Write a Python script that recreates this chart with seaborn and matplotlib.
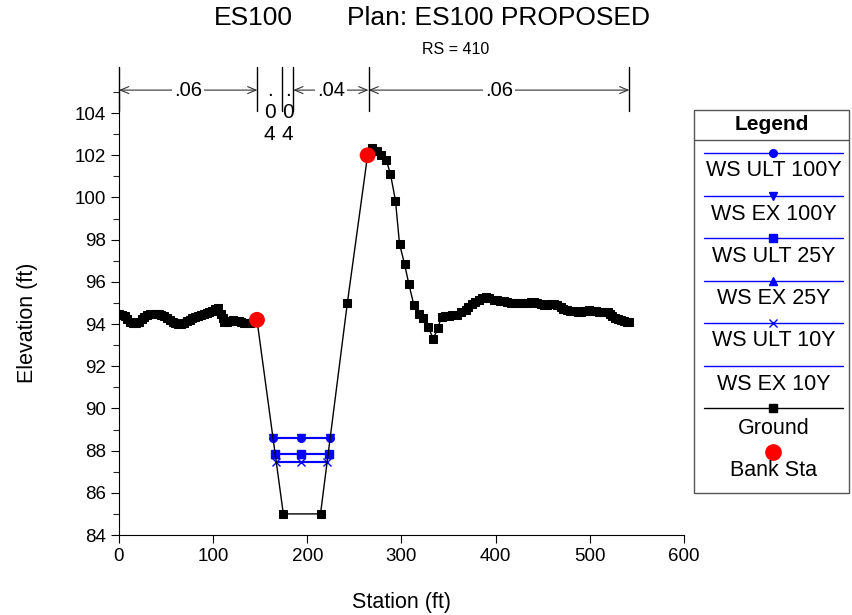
import matplotlib
matplotlib.use("Agg")
import matplotlib.pyplot as plt
import seaborn as sns
from matplotlib.lines import Line2D
from matplotlib.patches import Rectangle
from matplotlib.ticker import MultipleLocator

# Ground profile (station ft, elevation ft)
ground_sta = [0, 3, 6, 9, 12, 15, 18, 21, 24, 27, 30, 33, 36, 39, 42, 45, 48, 51, 54,
              57, 60, 63, 66, 69, 72, 75, 78, 81, 84, 87, 90, 93, 96, 99, 102, 105,
              108, 110, 112, 115, 118, 121, 124, 127, 130, 133, 136, 139, 142, 146.5,
              174.5, 214, 242.5, 264,
              268.8, 274.1, 278.7, 283.7, 288.3, 293.6, 297.9, 303.2, 307.8, 313.1,
              318.4, 323.0, 328.4, 333.7, 338.6,
              342.5, 346, 350, 354, 359, 363, 368, 371, 375, 378, 382, 386, 389.4,
              393, 398, 401, 405, 409, 412.4, 416, 419, 423, 426.6, 430, 434, 437,
              441, 444, 448, 451, 455, 458, 461.7, 465, 469, 472, 476, 479, 483, 487,
              490.4, 493, 496, 499, 503, 507, 510, 513, 516, 518.8, 521, 524, 527,
              530, 533, 536, 539, 541.8]
ground_elev = [94.5, 94.45, 94.38, 94.25, 94.12, 94.05, 94.05, 94.12, 94.25, 94.35,
               94.42, 94.47, 94.5, 94.5, 94.47, 94.43, 94.38, 94.3, 94.2, 94.12, 94.05,
               94.0, 94.0, 94.07, 94.15, 94.2, 94.27, 94.32, 94.4, 94.45, 94.5, 94.53,
               94.58, 94.62, 94.7, 94.75, 94.5, 94.3, 94.1, 94.12, 94.15, 94.17,
               94.15, 94.13, 94.1, 94.07, 94.05, 94.07, 94.12, 94.2,
               85.0, 85.0, 95.0, 102.0,
               102.35, 102.2, 102.0, 101.8, 101.1, 99.85, 97.8, 96.85, 95.9, 94.9,
               94.5, 94.3, 93.85, 93.3, 93.8,
               94.35, 94.38, 94.4, 94.42, 94.45, 94.55, 94.65, 94.8, 94.95, 95.05,
               95.15, 95.25, 95.3, 95.22, 95.15, 95.12, 95.1, 95.07, 95.05, 95.02,
               95.0, 94.98, 94.98, 94.99, 95.0, 95.03, 95.05, 95.0, 94.95, 94.92,
               94.9, 94.93, 94.95, 94.88, 94.8, 94.72, 94.65, 94.62, 94.6, 94.58,
               94.58, 94.6, 94.62, 94.65, 94.64, 94.6, 94.57, 94.55, 94.55, 94.55,
               94.48, 94.4, 94.3, 94.22, 94.17, 94.13, 94.1, 94.08]

bank_sta = [146.5, 264.0]
bank_elev = [94.2, 102.0]

# Water surfaces
ws_ult100_sta = [163.1, 193.6, 224.0]
ws_ult100_elev = [88.58, 88.58, 88.58]
ws_ex100_sta = [163.1, 193.6, 224.0]
ws_ex100_elev = [88.58, 88.58, 88.58]
ws_ult25_sta = [165.4, 193.6, 222.5]
ws_ult25_elev = [87.86, 87.86, 87.86]
ws_ex25_sta = [165.4, 193.6, 222.5]
ws_ex25_elev = [87.86, 87.86, 87.86]
ws_ult10_sta = [166.5, 193.6, 221.0]
ws_ult10_elev = [87.47, 87.47, 87.47]
ws_ex10_sta = [166.5, 193.6, 221.0]
ws_ex10_elev = [87.47, 87.47, 87.47]

# Manning's n regions
n_breaks = [0, 147, 173, 185, 265, 542]
n_values = [".06", ".04", ".04", ".04", ".06"]

x_ticks = [0, 100, 200, 300, 400, 500, 600]
y_ticks = [84, 86, 88, 90, 92, 94, 96, 98, 100, 102, 104]

sns.set_style("ticks")
plt.rcParams["font.family"] = ["Liberation Sans", "DejaVu Sans"]
plt.rcParams["text.color"] = "black"
plt.rcParams["axes.labelcolor"] = "black"

W, H = 853, 615
fig = plt.figure(figsize=(W / 100, H / 100), dpi=100)


def fx(px):
    return px / W


def fy(py):
    return 1 - py / H


ax = fig.add_axes([fx(119), fy(535), fx(684) - fx(119), fy(92) - fy(535)])

BLUE = "#0000ff"
ws_series = [
    (ws_ult100_sta, ws_ult100_elev, "o"),
    (ws_ex100_sta, ws_ex100_elev, "v"),
    (ws_ult25_sta, ws_ult25_elev, "s"),
    (ws_ex25_sta, ws_ex25_elev, "^"),
    (ws_ult10_sta, ws_ult10_elev, "x"),
    (ws_ex10_sta, ws_ex10_elev, None),
]
for sta, elev, mk in ws_series:
    kw = dict(marker=mk, markersize=5.5, markeredgecolor=BLUE, markerfacecolor=BLUE,
              markeredgewidth=1.0) if mk else {}
    sns.lineplot(x=sta, y=elev, sort=False, color=BLUE, linewidth=1.5, ax=ax,
                 zorder=3, **kw)

sns.lineplot(x=ground_sta, y=ground_elev, sort=False, color="black", linewidth=1.0,
             marker="s", markersize=5.2, markeredgecolor="black",
             markerfacecolor="black", ax=ax, zorder=4)
sns.scatterplot(x=bank_sta, y=bank_elev, color="red", s=130, edgecolor="none",
                ax=ax, zorder=5)

ax.set_xlim(0, 600)
ax.set_ylim(84, 105)
ax.set_xticks(x_ticks)
ax.set_yticks(y_ticks)
ax.yaxis.set_minor_locator(MultipleLocator(1))
ax.tick_params(axis="both", which="major", direction="out", length=6, width=0.8,
               labelsize=13.5, colors="black")
ax.tick_params(axis="y", which="minor", direction="out", length=4, width=0.8)
for s in ("top", "right"):
    ax.spines[s].set_visible(False)
for s in ("left", "bottom"):
    ax.spines[s].set_color("black")
    ax.spines[s].set_linewidth(0.8)

ax.set_xlabel("Station (ft)", fontsize=15.5)
ax.set_ylabel("Elevation (ft)", fontsize=15.5)
ax.xaxis.set_label_coords(0.5, -0.128)
ax.yaxis.set_label_coords(-0.143, 0.479)

# Manning's n annotations above the plot
y_arrow = 105.09
y_lo, y_hi = 104.1, 106.18
for b in n_breaks:
    ax.plot([b, b], [y_lo, y_hi], color="black", linewidth=1.0, clip_on=False,
            zorder=6)
for x0, x1, val in zip(n_breaks[:-1], n_breaks[1:], n_values):
    xm = 0.5 * (x0 + x1)
    if (x1 - x0) > 40:
        ax.annotate("", xy=(x0, y_arrow), xytext=(x1, y_arrow),
                    arrowprops=dict(arrowstyle="<->,head_length=0.6,head_width=0.25",
                                    color="#333333", linewidth=0.8,
                                    shrinkA=0, shrinkB=0),
                    annotation_clip=False)
        ax.text(xm, y_arrow, val, ha="center", va="center", fontsize=14.5,
                bbox=dict(facecolor="white", edgecolor="none", pad=1.5),
                clip_on=False, zorder=7)
    else:
        ax.text(xm, 105.5, "\n".join(val), ha="center", va="top",
                fontsize=15, linespacing=1.2, clip_on=False, zorder=7)

# Titles
fig.text(fx(253), fy(18), "ES100", ha="center", va="center", fontsize=19)
fig.text(fx(499), fy(18), "Plan: ES100 PROPOSED", ha="center", va="center",
         fontsize=19)
fig.text(fx(456), fy(50), "RS = 410", ha="center", va="center", fontsize=11.5)

# Legend panel
lax = fig.add_axes([0, 0, 1, 1], zorder=10)
lax.set_xlim(0, W)
lax.set_ylim(H, 0)
lax.axis("off")
lax.patch.set_alpha(0)
lax.add_patch(Rectangle((694, 110), 155, 383, facecolor="white",
                        edgecolor="#555555", linewidth=1.0))
lax.plot([694, 849], [140, 140], color="#555555", linewidth=1.0)
lax.text(771.5, 125, "Legend", ha="center", va="center", fontsize=15,
         fontweight="bold")

legend_labels = ["WS ULT 100Y", "WS EX 100Y", "WS ULT 25Y", "WS EX 25Y",
                 "WS ULT 10Y", "WS EX 10Y"]
line_y = [153, 196, 238, 281, 323, 366]
for (sta, elev, mk), lab, ly in zip(ws_series, legend_labels, line_y):
    lax.add_line(Line2D([704, 843], [ly, ly], color=BLUE, linewidth=1.0))
    if mk:
        lax.add_line(Line2D([773.5], [ly], marker=mk, markersize=5.5,
                            color=BLUE, markeredgewidth=1.0, linestyle="none"))
    lax.text(773.5, ly + 18, lab, ha="center", va="center", fontsize=15.5)

lax.add_line(Line2D([704, 843], [408, 408], color="black", linewidth=1.0))
lax.add_line(Line2D([773.5], [408], marker="s", markersize=5.5, color="black",
                    linestyle="none"))
lax.text(773.5, 428, "Ground", ha="center", va="center", fontsize=15.5)
lax.add_line(Line2D([773.5], [452], marker="o", markersize=11, color="red",
                    linestyle="none"))
lax.text(773.5, 471, "Bank Sta", ha="center", va="center", fontsize=15.5)

fig.savefig("out.png", dpi=100)
